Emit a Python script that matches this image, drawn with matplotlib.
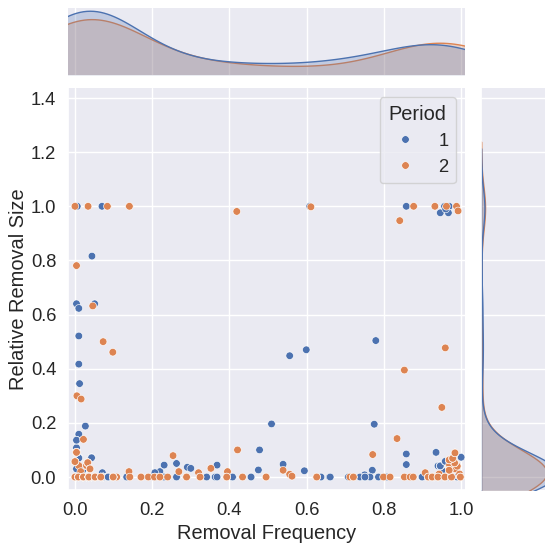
import matplotlib
matplotlib.use("Agg")
import matplotlib.pyplot as plt
import pandas as pd
import seaborn as sns

# Period 1 (blue), visible dots
freq_p1 = [0.006, 0.070, 0.608, 0.858, 0.957, 0.969, 0.946, 0.967, 0.960,
           0.044, 0.004, 0.010, 0.051, 0.010, 0.010, 0.012, 0.556, 0.599, 0.779,
           0.027, 0.010, 0.004, 0.004, 0.010, 0.043, 0.004, 0.020, 0.071,
           0.509, 0.478, 0.368, 0.475, 0.539, 0.594, 0.231, 0.263, 0.291, 0.300, 0.220, 0.207,
           0.775, 0.858, 0.858, 0.935, 0.770, 1.000, 0.959, 0.946, 0.940, 0.955, 0.750,
           0.004, 0.030, 0.043, 0.073, 0.086, 0.095, 0.134, 0.207, 0.230, 0.263,
           0.341, 0.363, 0.368, 0.408, 0.456, 0.637, 0.659, 0.661, 0.708, 0.738,
           0.751, 0.764, 0.786, 0.808, 0.899, 0.930, 0.970, 0.990]
size_p1 = [1.000, 1.000, 1.000, 1.000, 1.000, 1.000, 0.976, 0.976, 0.990,
           0.816, 0.640, 0.623, 0.640, 0.521, 0.417, 0.345, 0.448, 0.470, 0.504,
           0.188, 0.158, 0.136, 0.108, 0.070, 0.071, 0.030, 0.025, 0.016,
           0.196, 0.100, 0.044, 0.026, 0.047, 0.023, 0.044, 0.050, 0.036, 0.032, 0.020, 0.016,
           0.195, 0.085, 0.046, 0.091, 0.025, 0.073, 0.058, 0.041, 0.041, 0.020, 0.008,
           0.000, 0.000, 0.000, 0.000, 0.000, 0.000, 0.000, 0.000, 0.000, 0.000,
           0.000, 0.000, 0.000, 0.000, 0.000, 0.000, 0.000, 0.000, 0.000, 0.000,
           0.000, 0.000, 0.000, 0.000, 0.000, 0.000, 0.000, 0.000]

# Period 1, dots stacked under visible ones (freq, size, how many), estimated from the marginals
stacked_p1 = [(0.004, 0.0, 12), (0.010, 0.0, 10), (0.020, 0.0, 10), (0.030, 0.0, 10),
              (0.043, 0.0, 10), (0.073, 0.0, 9), (0.086, 0.0, 6), (0.134, 0.0, 5),
              (0.004, 0.030, 8), (0.020, 0.025, 6), (0.010, 0.070, 6), (0.043, 0.071, 5),
              (0.004, 0.108, 3), (0.004, 0.136, 2),
              (0.207, 0.0, 2), (0.263, 0.0, 2), (0.341, 0.0, 2), (0.408, 0.0, 2),
              (0.456, 0.0, 3), (0.637, 0.0, 2), (0.708, 0.0, 3), (0.751, 0.0, 2), (0.786, 0.0, 2),
              (0.899, 0.0, 3), (0.930, 0.0, 4), (0.940, 0.0, 3), (0.955, 0.0, 4),
              (0.970, 0.0, 4), (0.990, 0.0, 4), (0.946, 0.041, 5), (0.959, 0.058, 4),
              (1.000, 0.073, 4), (0.935, 0.091, 3)]

# Period 2 (orange), visible dots
freq_p2 = [0.000, 0.034, 0.084, 0.141, 0.611, 0.877, 0.932, 0.962, 0.988, 0.419, 0.992, 0.841,
           0.004, 0.046, 0.073, 0.098, 0.005, 0.016, 0.959, 0.853, 0.950, 0.834, 0.771,
           0.022, 0.004, 0.000, 0.033, 0.030, 0.010, 0.039, 0.015, 0.140,
           0.254, 0.269, 0.320, 0.421, 0.352, 0.395, 0.539, 0.556, 0.562,
           0.984, 0.969, 0.978, 0.983, 0.969, 0.985, 0.996, 0.943, 0.907, 0.970, 0.990,
           0.000, 0.009, 0.022, 0.036, 0.052, 0.067, 0.099, 0.108, 0.142, 0.171, 0.190,
           0.206, 0.220, 0.240, 0.289, 0.324, 0.393, 0.434, 0.495, 0.626, 0.712, 0.721,
           0.799, 0.816, 0.853, 0.868, 0.876, 0.915, 0.925, 0.940, 0.958, 0.975, 0.998]
size_p2 = [1.000, 1.000, 1.000, 1.000, 0.998, 1.000, 1.000, 1.000, 1.000, 0.981, 0.983, 0.947,
           0.781, 0.632, 0.500, 0.461, 0.300, 0.288, 0.477, 0.395, 0.257, 0.142, 0.083,
           0.139, 0.091, 0.057, 0.053, 0.042, 0.042, 0.030, 0.020, 0.020,
           0.079, 0.020, 0.016, 0.100, 0.032, 0.020, 0.025, 0.010, 0.003,
           0.089, 0.063, 0.069, 0.052, 0.025, 0.030, 0.011, 0.011, 0.016, 0.045, 0.040,
           0.000, 0.000, 0.000, 0.000, 0.000, 0.000, 0.000, 0.000, 0.000, 0.000, 0.000,
           0.000, 0.000, 0.000, 0.000, 0.000, 0.000, 0.000, 0.000, 0.000, 0.000, 0.000,
           0.000, 0.000, 0.000, 0.000, 0.000, 0.000, 0.000, 0.000, 0.000, 0.000, 0.000]

# Period 2, stacked dots
stacked_p2 = [(0.000, 0.0, 11), (0.009, 0.0, 10), (0.022, 0.0, 10), (0.036, 0.0, 10),
              (0.052, 0.0, 8), (0.067, 0.0, 6), (0.099, 0.0, 5),
              (0.030, 0.042, 6), (0.000, 0.057, 6), (0.033, 0.053, 5), (0.004, 0.091, 5),
              (0.039, 0.030, 4),
              (0.171, 0.0, 2), (0.220, 0.0, 2), (0.289, 0.0, 2), (0.324, 0.0, 2),
              (0.393, 0.0, 2), (0.495, 0.0, 2), (0.626, 0.0, 2), (0.721, 0.0, 2),
              (0.915, 0.0, 3), (0.925, 0.0, 3), (0.940, 0.0, 3), (0.958, 0.0, 4),
              (0.975, 0.0, 4), (0.998, 0.0, 4), (0.969, 0.025, 4), (0.983, 0.052, 4),
              (0.969, 0.063, 3), (0.978, 0.069, 3), (0.984, 0.089, 3)]

periods = ["1", "2"]


def with_stacked(xs, ys, stacked):
    xs, ys = list(xs), list(ys)
    for fx, sy, k in stacked:
        xs += [fx] * k
        ys += [sy] * k
    return xs, ys


x1, y1 = with_stacked(freq_p1, size_p1, stacked_p1)
x2, y2 = with_stacked(freq_p2, size_p2, stacked_p2)

df = pd.DataFrame({
    "Removal Frequency": x1 + x2,
    "Relative Removal Size": y1 + y2,
    "Period": [periods[0]] * len(x1) + [periods[1]] * len(x2),
})

sns.set_theme(style="darkgrid", font_scale=1.2)
plt.rcParams["font.family"] = ["Liberation Sans", "DejaVu Sans"]
plt.rcParams["xtick.major.pad"] = 2.5
plt.rcParams["ytick.major.pad"] = 2.5

g = sns.jointplot(data=df, x="Removal Frequency", y="Relative Removal Size",
                  hue="Period", hue_order=periods, height=6, s=30)

fig = g.figure
fig.set_size_inches(5.45, 5.44)
W, H = 545, 544


def box(l, t, r, b):
    return [l / W, 1 - b / H, (r - l) / W, (b - t) / H]


g.ax_joint.set_position(box(68, 88, 465, 490))
g.ax_marg_x.set_position(box(68, 8, 465, 76))
g.ax_marg_y.set_position(box(481, 88, 561, 490))

g.ax_joint.set_xlim(-0.018, 1.01)
g.ax_joint.set_ylim(-0.048, 1.437)
g.ax_joint.set_yticks([0.0, 0.2, 0.4, 0.6, 0.8, 1.0, 1.2, 1.4])
g.ax_joint.yaxis.labelpad = 2
sns.move_legend(g.ax_joint, "upper right")

fig.savefig("out.png", dpi=100)
